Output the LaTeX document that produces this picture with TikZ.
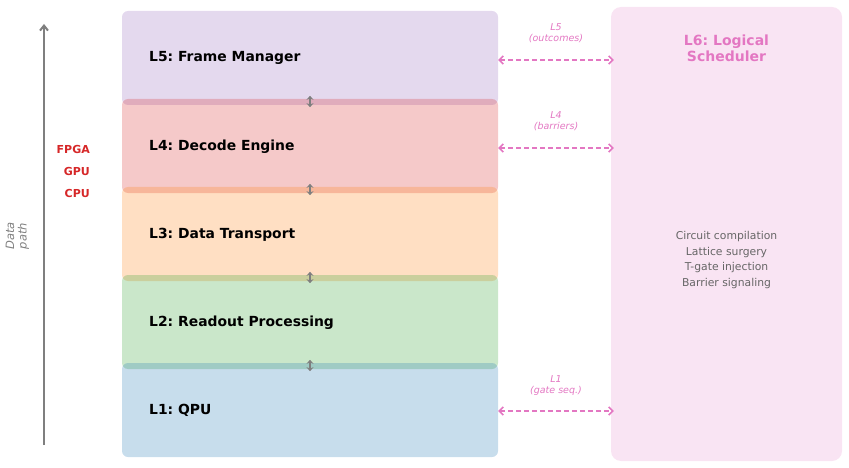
\documentclass[tikz,border=0pt]{standalone}
\usepackage{fontspec}
\setmainfont{DejaVu Sans}
\usetikzlibrary{arrows.meta,calc}
\definecolor{tpurple}{HTML}{9467BD}
\definecolor{tred}{HTML}{D62728}
\definecolor{torange}{HTML}{FF7F0E}
\definecolor{tgreen}{HTML}{2CA02C}
\definecolor{tblue}{HTML}{1F77B4}
\definecolor{tpink}{HTML}{E377C2}
\definecolor{tgray}{HTML}{7F7F7F}
\definecolor{bodygray}{HTML}{666666}
\tikzset{
  layer/.style={rounded corners=6pt, fill opacity=0.25, text opacity=1, minimum width=376pt, minimum height=94pt, inner sep=0pt, draw=none},
  layertext/.style={anchor=base west, font=\fontsize{13.9}{16}\selectfont\bfseries, text=black, inner sep=0pt},
  sidearrow/.style={draw=tpink, line width=1.6pt, dash pattern=on 5pt off 3pt, {Straight Barb[length=4pt,width=8pt]}-{Straight Barb[length=4pt,width=8pt]}},
  sidelabel/.style={font=\fontsize{9.5}{11}\selectfont\itshape, text=tpink, align=center, inner sep=0pt},
  gaparrow/.style={draw=tgray, line width=2pt, {Stealth[length=4pt,width=7pt]}-{Stealth[length=4pt,width=7pt]}},
  hwlabel/.style={anchor=east, font=\fontsize{11}{13}\selectfont\bfseries, text=tred, inner sep=0pt},
}
\begin{document}
\frenchspacing
\begin{tikzpicture}[x=1pt,y=-1pt]
\useasboundingbox (0,0) rectangle (849,468);
% layer boxes
\node[layer, fill=tpurple] (L5) at (310,58) {};
\node[layer, fill=tred] (L4) at (310,146) {};
\node[layer, fill=torange] (L3) at (310,234) {};
\node[layer, fill=tgreen] (L2) at (310,322) {};
\node[layer, fill=tblue] (L1) at (310,410) {};
\node[layertext] (t5) at (149,62) {L5: Frame Manager};
\node[layertext] (t4) at (149,150) {L4: Decode Engine};
\node[layertext] (t3) at (149,238) {L3: Data Transport};
\node[layertext] (t2) at (149,326) {L2: Readout Processing};
\node[layertext] (t1) at (149,414) {L1: QPU};
% gap arrows
\draw[gaparrow] ([yshift=3pt]L4.north) -- ([yshift=-2pt]L5.south);
\draw[gaparrow] ([yshift=3pt]L3.north) -- ([yshift=-2pt]L4.south);
\draw[gaparrow] ([yshift=3pt]L2.north) -- ([yshift=-2pt]L3.south);
\draw[gaparrow] ([yshift=3pt]L1.north) -- ([yshift=-2pt]L2.south);
% L6 box
\node[rounded corners=10pt, fill=tpink, fill opacity=0.2, minimum width=231pt, minimum height=454pt, inner sep=0pt] (L6) at (726.5,234) {};
\node[font=\fontsize{14}{16}\selectfont\bfseries, text=tpink, align=center, inner sep=0pt] (L6t) at (726.5,48) {L6: Logical\\Scheduler};
\node[font=\fontsize{10.8}{15.8}\selectfont, text=bodygray, align=center, inner sep=0pt] (L6b) at (726.5,260) {Circuit compilation\\Lattice surgery\\T-gate injection\\Barrier signaling};
% side arrows
\coordinate (a5l) at ([yshift=-2pt]L5.east);
\coordinate (a5r) at ([xshift=3pt]a5l -| L6.west);
\coordinate (a4l) at ([yshift=-2pt]L4.east);
\coordinate (a4r) at ([xshift=3pt]a4l -| L6.west);
\coordinate (a1l) at ([yshift=-1pt]L1.east);
\coordinate (a1r) at ([xshift=3pt]a1l -| L6.west);
\draw[sidearrow] (a5l) -- (a5r);
\draw[sidearrow] (a4l) -- (a4r);
\draw[sidearrow] (a1l) -- (a1r);
\node[sidelabel] (s5) at ($(a5l)!0.5!(a5r)+(0,-26.5)$) {L5\\(outcomes)};
\node[sidelabel] (s4) at ($(a4l)!0.5!(a4r)+(0,-26.5)$) {L4\\(barriers)};
\node[sidelabel] (s1) at ($(a1l)!0.5!(a1r)+(0,-25.5)$) {L1\\(gate seq.)};
% data path
\coordinate (dpb) at (44,445);
\coordinate (dpt) at (44,24);
\draw[draw=tgray, line width=2pt, -{Straight Barb[length=5pt,width=8pt]}] (dpb) -- (dpt);
\node[rotate=90, font=\fontsize{11.5}{12.5}\selectfont\itshape, text=tgray, align=center, inner sep=0pt] (dp) at (17.5,236) {Data\\path};
% hardware labels
\node[hwlabel] (fpga) at (90,149) {FPGA};
\node[hwlabel] (gpu) at (90,171) {GPU};
\node[hwlabel] (cpu) at (90,193) {CPU};
\end{tikzpicture}
\end{document}
